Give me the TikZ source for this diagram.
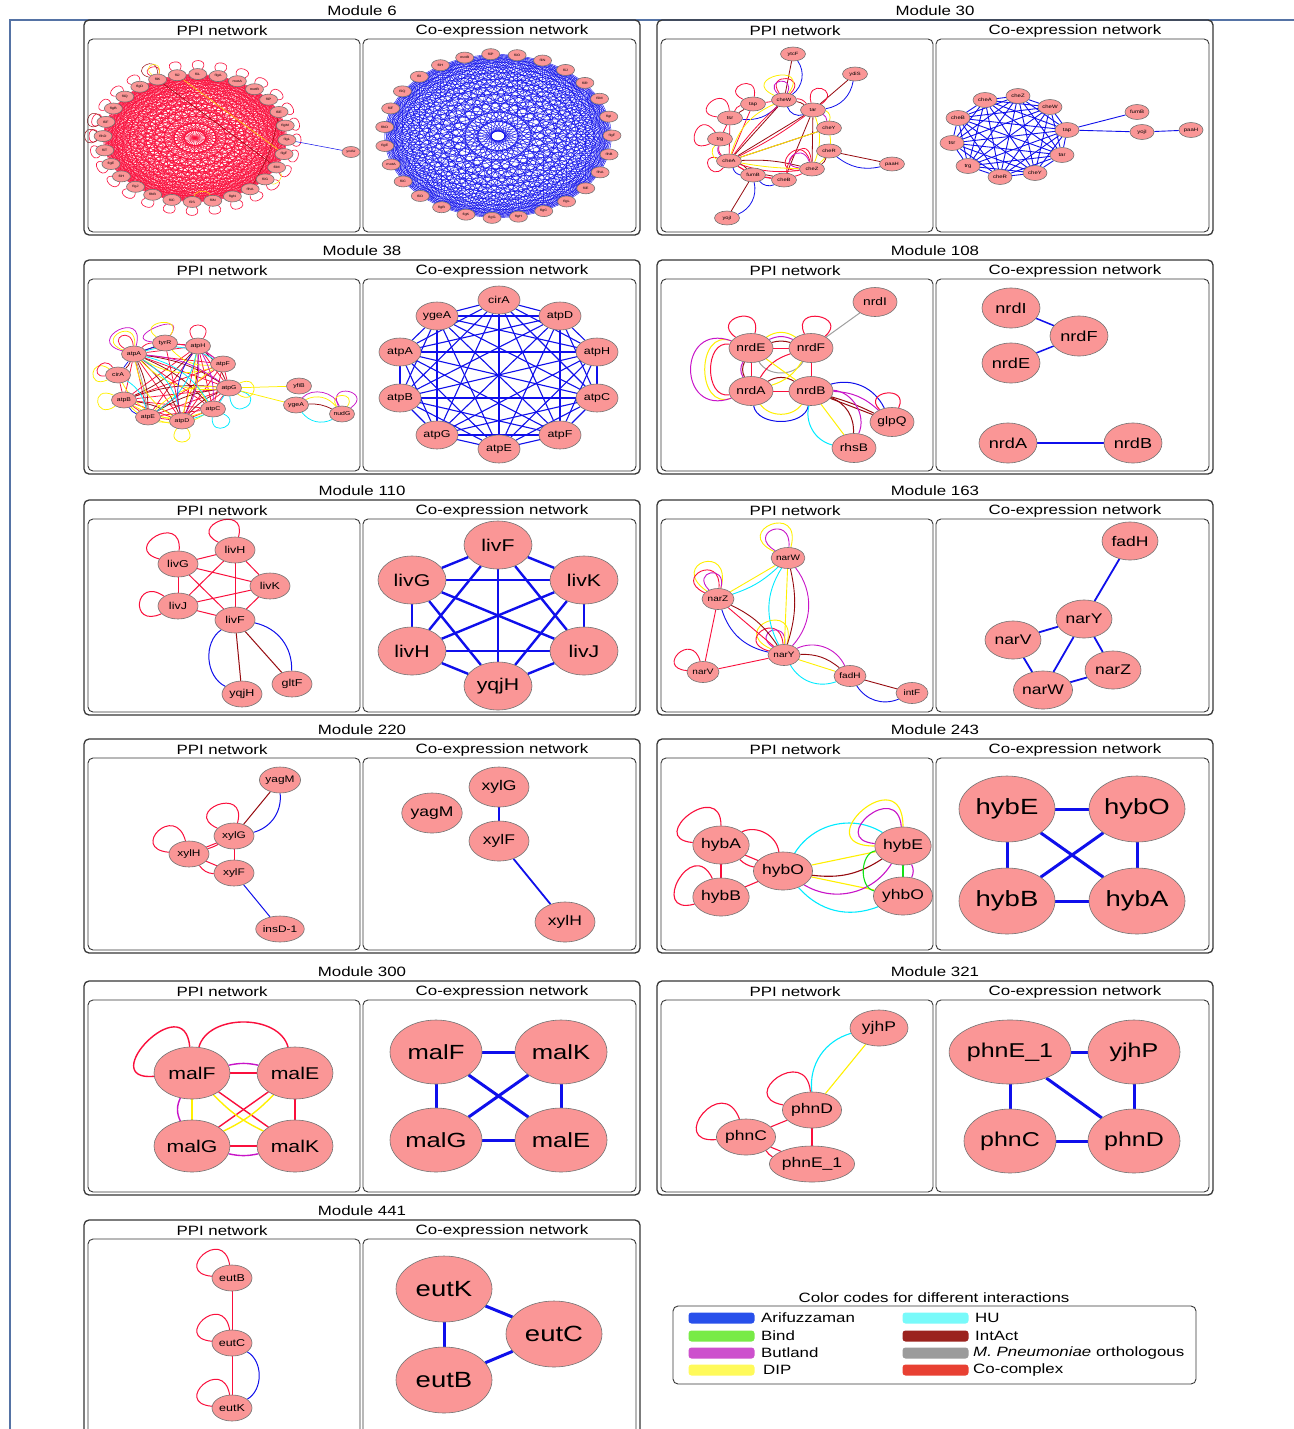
\documentclass[tikz,border=0pt]{standalone}
\usepackage{fontspec}
\setmainfont[FakeStretch=1.25]{Liberation Sans}
\usetikzlibrary{shapes.geometric}
\pgfdeclarelayer{back}
\pgfdeclarelayer{bg}
\pgfsetlayers{back,bg,main}
\definecolor{nodefill}{RGB}{250,150,150}
\definecolor{nodeborder}{RGB}{115,115,115}
\definecolor{cAr}{RGB}{15,15,235}
\definecolor{cBi}{RGB}{20,225,20}
\definecolor{cBu}{RGB}{200,20,200}
\definecolor{cDi}{RGB}{255,240,0}
\definecolor{cHu}{RGB}{0,235,255}
\definecolor{cIn}{RGB}{150,10,15}
\definecolor{cMp}{RGB}{160,160,160}
\definecolor{cCo}{RGB}{250,15,60}
\definecolor{lAr}{RGB}{40,80,235}
\definecolor{lBi}{RGB}{120,235,70}
\definecolor{lBu}{RGB}{205,80,205}
\definecolor{lDi}{RGB}{255,250,90}
\definecolor{lHu}{RGB}{120,250,250}
\definecolor{lIn}{RGB}{155,35,30}
\definecolor{lMp}{RGB}{155,155,155}
\definecolor{lCo}{RGB}{232,64,50}
\definecolor{frameblue}{RGB}{85,115,165}
\definecolor{boxline}{RGB}{55,55,55}
\newcommand\sloop[5]{\draw[#1] (#2) to[out=#3,in=#4,min distance=#5pt] (#2);}
\newcommand\subgraph[3]{\foreach \ga [count=\gi] in {#2}{\foreach \gb [count=\gj] in {#2}{\ifnum\gj>\gi\relax\draw[#3] (#1\ga) -- (#1\gb);\fi}}}
\newcommand\modpanel[4]{%
 \node[modtitle] (mt#3) at (#1+278,#2-9) {Module #3};
 \draw[outerbox] (#1,#2) rectangle (#1+556,#2+#4);
 \node[modtitle] (pt#3) at (#1+138,#2+11) {PPI network};
 \node[modtitle] (ct#3) at (#1+418,#2+11) {Co-expression network};
 \draw[innerbox] (#1+4,#2+19) rectangle (#1+276,#2+#4-3);
 \draw[innerbox] (#1+279,#2+19) rectangle (#1+552,#2+#4-3);
}
\begin{document}
\begin{tikzpicture}[x=1pt,y=-1pt,
 gene/.style n args={3}{ellipse, draw=nodeborder, fill=nodefill, line width=0.6pt, inner sep=0pt, minimum width=#1pt, minimum height=#2pt, font=\fontsize{#3pt}{#3pt}\selectfont},
 g6/.style={gene={18}{11}{3.2}},
 g30p/.style={gene={25}{14}{4.6}}, g30c/.style={gene={24}{15}{4.8}},
 g38p/.style={gene={25}{16}{5.5}}, g38c/.style={gene={42}{28}{10}},
 g108p/.style={gene={44}{29}{11}}, g108c/.style={gene={58}{40}{14.5}},
 g110p/.style={gene={40}{26}{10}}, g110c/.style={gene={68}{48}{17}},
 g163p/.style={gene={32}{21}{8}}, g163c/.style={gene={56}{38}{14}},
 g220p/.style={gene={40}{26}{9.5}}, g220c/.style={gene={60}{40}{14}},
 g243p/.style={gene={55}{38}{14}}, g243c/.style={gene={96}{66}{22}},
 g300p/.style={gene={76}{52}{17}}, g300c/.style={gene={92}{64}{20.5}},
 g321p/.style={gene={58}{36}{14}}, g321c/.style={gene={92}{64}{20}},
 g441p/.style={gene={40}{26}{10}}, g441c/.style={gene={96}{66}{22}},
 eAr/.style={draw=cAr}, eBi/.style={draw=cBi}, eBu/.style={draw=cBu}, eDi/.style={draw=cDi},
 eHu/.style={draw=cHu}, eIn/.style={draw=cIn}, eMp/.style={draw=cMp}, eCo/.style={draw=cCo},
 modtitle/.style={font=\fontsize{13.5pt}{13.5pt}\selectfont, inner sep=0pt},
 outerbox/.style={draw=boxline, line width=1.3pt, rounded corners=5pt},
 innerbox/.style={draw=boxline, line width=0.9pt, rounded corners=5pt},
 swatch/.style={rectangle, rounded corners=3pt, minimum width=66pt, minimum height=11pt, inner sep=0pt},
 leglab/.style={anchor=west, inner sep=0pt, font=\fontsize{13.5pt}{13.5pt}\selectfont}
]
\useasboundingbox (0,0) rectangle (1293,1429);
\begin{pgfonlayer}{back}\fill[white] (0,0) rectangle (1293,1429);\end{pgfonlayer}
\draw[frameblue, line width=1.3pt] (10,1440) -- (10,20) -- (1300,20);

\modpanel{84}{20}{6}{215}
\modpanel{657}{20}{30}{215}
\modpanel{84}{260}{38}{214}
\modpanel{657}{260}{108}{214}
\modpanel{84}{500}{110}{215}
\modpanel{657}{500}{163}{215}
\modpanel{84}{739}{220}{214}
\modpanel{657}{739}{243}{214}
\modpanel{84}{981}{300}{214}
\modpanel{657}{981}{321}{214}
\modpanel{84}{1220}{441}{225}

% ================= Module 6 =================
\foreach \nm [count=\i] in {fliK,fliJ,fliL,flgA,motA,motB,fliP,fliE,flgM,flgL,flgF,fliM,fliG,flhA,flgN,fliN,fliS,fliC,flhB,flgJ,fliH,flgE,fliT,flhD,fliF,flgB,fliQ,flgD}{
 \pgfmathsetmacro\ang{114-(\i-1)*360/28}
 \node[g6] (m6p\i) at ({195+92*cos(\ang)},{138-64*sin(\ang)}) {\nm};}
\node[g6] (m6ycdU) at (351,152) {ycdU};
\foreach \nm [count=\i] in {motB,fliP,fliO,fliN,fliJ,fliR,fliM,flgI,flgF,flhB,flhA,fliE,flgL,flgC,flgH,flgG,flgK,flgB,fliD,fliC,motA,flgE,flhD,fliF,fliQ,fliI,fliH}{
 \pgfmathsetmacro\ang{107-(\i-1)*360/27}
 \node[g6] (m6c\i) at ({498+114*cos(\ang)},{136-82*sin(\ang)}) {\nm};}
\begin{pgfonlayer}{bg}
\foreach \i in {1,...,27}{\pgfmathtruncatemacro\k{\i+1}\foreach \j in {\k,...,28}{\draw[eCo,line width=0.5pt] (m6p\i.center)--(m6p\j.center);}}
\foreach \i in {1,...,28}{\pgfmathsetmacro\aa{114-(\i-1)*360/28+38}\pgfmathsetmacro\ab{114-(\i-1)*360/28-38}\draw[eCo,line width=0.6pt] (m6p\i) to[out=\aa,in=\ab,min distance=14pt] (m6p\i);}
\foreach \i in {1,...,26}{\pgfmathtruncatemacro\k{\i+1}\foreach \j in {\k,...,27}{\draw[eAr,line width=0.4pt] (m6c\i.center)--(m6c\j.center);}}
\begin{scope}[line width=0.5pt]
\draw[eIn] (m6p1) -- (m6p12);
\draw[eIn] (m6p8) to[bend left=10] (m6p14);
\sloop{eIn}{m6p1}{165}{90}{22}
\sloop{eIn}{m6p24}{215}{145}{20}
\sloop{eIn}{m6p25}{205}{135}{20}
\sloop{eDi}{m6p1}{140}{75}{16}
\draw[eDi] (m6p16) to[bend right=70] (m6p17);
\draw[eDi] (m6p12) to[bend left=80] (m6p13);
\draw[eDi] (m6p2) -- (m6p11);
\draw[eAr] (m6p10) -- (m6ycdU);
\end{scope}
\end{pgfonlayer}

% ================= Module 30 =================
\node[g30p] (p30ytcF) at (793,54) {ytcF};
\node[g30p] (p30ydiS) at (855,74) {ydiS};
\node[g30p] (p30cheW) at (784,100) {cheW};
\node[g30p] (p30tap) at (753,104) {tap};
\node[g30p] (p30tar) at (813,110) {tar};
\node[g30p] (p30tsr) at (730,118) {tsr};
\node[g30p] (p30cheY) at (829,128) {cheY};
\node[g30p] (p30trg) at (720,139) {trg};
\node[g30p] (p30cheR) at (829,151) {cheR};
\node[g30p] (p30cheA) at (729,161) {cheA};
\node[g30p] (p30cheZ) at (812,169) {cheZ};
\node[g30p] (p30fumB) at (753,175) {fumB};
\node[g30p] (p30cheB) at (784,180) {cheB};
\node[g30p] (p30paaH) at (892,164) {paaH};
\node[g30p] (p30yojI) at (727,218) {yojI};
\node[g30c] (c30cheA) at (985,100) {cheA};
\node[g30c] (c30cheZ) at (1018,96) {cheZ};
\node[g30c] (c30cheW) at (1050,107) {cheW};
\node[g30c] (c30cheB) at (958,118) {cheB};
\node[g30c] (c30tap) at (1067,130) {tap};
\node[g30c] (c30tsr) at (952,143) {tsr};
\node[g30c] (c30tar) at (1062,155) {tar};
\node[g30c] (c30trg) at (968,166) {trg};
\node[g30c] (c30cheR) at (1000,177) {cheR};
\node[g30c] (c30cheY) at (1035,173) {cheY};
\node[g30c] (c30fumB) at (1137,112) {fumB};
\node[g30c] (c30yojI) at (1142,132) {yojI};
\node[g30c] (c30paaH) at (1191,130) {paaH};
\begin{pgfonlayer}{bg}
\begin{scope}[line width=0.8pt]
\draw[eIn] (p30ytcF) -- (p30cheW);
\draw[eIn] (p30ydiS) -- (p30tar);
\draw[eIn] (p30cheR) -- (p30paaH);
\draw[eIn] (p30fumB) -- (p30yojI);
\draw[eIn] (p30cheA) -- (p30cheW);
\draw[eIn] (p30cheA) -- (p30tar);
\draw[eIn] (p30cheA) -- (p30cheY);
\draw[eIn] (p30cheA) to[bend left=8] (p30cheZ);
\draw[eIn] (p30tar) -- (p30cheB);
\draw[eIn] (p30tar) -- (p30cheZ);
\draw[eIn] (p30tap) -- (p30tsr);
\draw[eIn] (p30cheA) to[bend left=15] (p30fumB);
\draw[eIn] (p30fumB) to[bend left=10] (p30cheB);
\draw[eIn] (p30cheW) to[bend left=12] (p30tar);
\draw[eIn] (p30cheR) to[bend left=20] (p30cheZ);
\draw[eAr] (p30ytcF) to[bend left=45] (p30cheW);
\draw[eAr] (p30ydiS) to[bend left=35] (p30tar);
\draw[eAr] (p30cheR) to[bend right=25] (p30paaH);
\draw[eAr] (p30fumB) to[bend left=40] (p30yojI);
\draw[eAr] (p30tsr) to[bend right=25] (p30cheW);
\draw[eAr] (p30cheA) to[bend right=30] (p30fumB);
\draw[eAr] (p30fumB) to[bend right=35] (p30cheB);
\draw[eAr] (p30cheW) to[bend right=45] (p30tar);
\sloop{eCo}{p30tap}{155}{80}{26}
\sloop{eCo}{p30tsr}{175}{95}{30}
\sloop{eCo}{p30trg}{205}{125}{32}
\sloop{eCo}{p30cheW}{125}{45}{26}
\sloop{eCo}{p30tar}{105}{35}{26}
\sloop{eCo}{p30cheA}{230}{165}{20}
\sloop{eCo}{p30cheZ}{185}{105}{34}
\sloop{eCo}{p30cheZ}{205}{95}{42}
\draw[eCo] (p30cheA) -- (p30tap);
\draw[eCo] (p30cheA) to[bend left=5] (p30cheW);
\draw[eCo] (p30cheA) to[bend right=5] (p30tar);
\draw[eCo] (p30cheA) -- (p30tsr);
\draw[eCo] (p30cheA) to[bend left=30] (p30trg);
\draw[eCo] (p30tap) -- (p30cheW);
\draw[eCo] (p30tar) to[bend right=25] (p30cheW);
\draw[eCo] (p30cheA) -- (p30fumB);
\draw[eCo] (p30cheA) to[bend right=12] (p30cheZ);
\draw[eCo] (p30tsr) -- (p30trg);
\draw[eCo] (p30cheA) to[bend right=12] (p30cheB);
\draw[eCo] (p30fumB) -- (p30cheB);
\draw[eCo] (p30tsr) to[bend left=25] (p30tap);
\draw[eDi] (p30cheA) to[bend left=25] (p30cheW);
\draw[eDi] (p30cheA) -- (p30cheY);
\draw[eDi] (p30cheA) to[bend right=4] (p30cheZ);
\draw[eDi] (p30trg) to[bend right=60] (p30cheA);
\sloop{eDi}{p30cheW}{155}{55}{40}
\draw[eDi] (p30tar) to[bend left=45] (p30cheY);
\draw[eDi] (p30tar) to[bend left=20] (p30cheZ);
\draw[eDi] (p30cheY) to[bend left=30] (p30cheZ);
\draw[eBu] (p30trg) to[bend right=35] (p30cheA);
\sloop{eBu}{p30cheW}{135}{65}{20}
\draw[eBu] (p30tar) to[bend left=25] (p30cheY);
\sloop{eBu}{p30cheZ}{175}{110}{24}
\end{scope}
\subgraph{c30}{cheA,cheZ,cheW,cheB,tap,tsr,tar,trg,cheR,cheY}{eAr,line width=0.9pt}
\draw[eAr,line width=0.9pt] (c30tap) -- (c30fumB);
\draw[eAr,line width=0.9pt] (c30tap) -- (c30yojI);
\draw[eAr,line width=0.9pt] (c30yojI) -- (c30paaH);
\end{pgfonlayer}

% ================= Module 38 =================
\node[g38p] (p38tyrR) at (165,343) {tyrR};
\node[g38p] (p38atpH) at (198,346) {atpH};
\node[g38p] (p38atpA) at (134,354) {atpA};
\node[g38p] (p38atpF) at (223,364) {atpF};
\node[g38p] (p38cirA) at (118,375) {cirA};
\node[g38p] (p38atpG) at (229,388) {atpG};
\node[g38p] (p38atpB) at (124,400) {atpB};
\node[g38p] (p38atpC) at (213,409) {atpC};
\node[g38p] (p38atpE) at (148,417) {atpE};
\node[g38p] (p38atpD) at (182,421) {atpD};
\node[g38p] (p38yfiB) at (299,386) {yfiB};
\node[g38p] (p38ygeA) at (296,405) {ygeA};
\node[g38p] (p38nudG) at (342,414) {nudG};
\node[g38c] (c38ygeA) at (437,316) {ygeA};
\node[g38c] (c38cirA) at (499,300) {cirA};
\node[g38c] (c38atpD) at (560,316) {atpD};
\node[g38c] (c38atpA) at (400,352) {atpA};
\node[g38c] (c38atpH) at (597,352) {atpH};
\node[g38c] (c38atpB) at (400,398) {atpB};
\node[g38c] (c38atpC) at (597,398) {atpC};
\node[g38c] (c38atpG) at (437,435) {atpG};
\node[g38c] (c38atpF) at (560,435) {atpF};
\node[g38c] (c38atpE) at (499,449) {atpE};
\begin{pgfonlayer}{bg}
\begin{scope}[line width=0.75pt]
\subgraph{p38}{atpA,atpH,atpF,atpG,atpB,atpC,atpE,atpD}{eCo}
\foreach \ga/\gb in {atpA/atpH,atpA/atpG,atpA/atpD,atpA/atpE,atpH/atpG,atpH/atpD,atpB/atpG,atpB/atpD,atpE/atpG,atpD/atpG,atpA/atpC,atpH/atpB,atpA/cirA}{\draw[eIn] (p38\ga) to[bend left=12] (p38\gb);}
\foreach \ga/\gb in {atpA/atpF,atpA/atpD,atpB/atpD,atpB/atpC,atpH/atpC,atpF/atpD,atpG/atpE,cirA/atpD,atpA/atpG,atpE/atpC,tyrR/atpF}{\draw[eDi] (p38\ga) to[bend right=25] (p38\gb);}
\foreach \ga/\gb in {atpA/atpD,atpA/atpC,cirA/atpE,atpH/atpE,atpG/atpD,atpA/atpF}{\draw[eHu] (p38\ga) to[bend left=22] (p38\gb);}
\foreach \ga/\gb in {atpA/atpG,atpH/atpD,atpH/atpC,tyrR/atpF}{\draw[eBu] (p38\ga) to[bend left=15] (p38\gb);}
\draw[eAr] (p38atpA) -- (p38tyrR);
\draw[eAr] (p38atpH) to[bend right=25] (p38atpD);
\draw[eAr] (p38atpA) -- (p38cirA);
\draw[eAr] (p38atpB) to[bend right=20] (p38atpE);
\draw[eMp] (p38atpA) to[bend left=5] (p38atpE);
\draw[eCo] (p38cirA) -- (p38atpB);
\draw[eCo] (p38tyrR) -- (p38atpH);
\draw[eCo] (p38atpA) to[bend left=20] (p38tyrR);
\draw[eCo] (p38tyrR) -- (p38atpD);
\sloop{eBu}{p38atpA}{165}{75}{40}
\sloop{eDi}{p38atpA}{160}{85}{30}
\sloop{eCo}{p38atpA}{150}{95}{20}
\sloop{eBu}{p38tyrR}{175}{55}{34}
\sloop{eDi}{p38tyrR}{145}{55}{26}
\sloop{eCo}{p38atpH}{125}{55}{22}
\sloop{eDi}{p38cirA}{205}{145}{24}
\sloop{eCo}{p38cirA}{185}{125}{18}
\sloop{eDi}{p38atpB}{215}{155}{26}
\sloop{eHu}{p38atpG}{345}{275}{28}
\sloop{eDi}{p38atpG}{25}{325}{24}
\sloop{eDi}{p38atpD}{305}{235}{22}
\sloop{eHu}{p38atpC}{335}{265}{22}
\draw[eDi] (p38atpG) -- (p38yfiB);
\draw[eDi] (p38atpG) -- (p38ygeA);
\draw[eIn] (p38ygeA) to[bend left=15] (p38nudG);
\draw[eHu] (p38ygeA) to[bend right=40] (p38nudG);
\draw[eBu] (p38ygeA) to[bend left=60] (p38nudG);
\draw[eDi] (p38ygeA) to[bend left=40] (p38nudG);
\sloop{eBu}{p38nudG}{115}{35}{28}
\sloop{eDi}{p38nudG}{125}{55}{18}
\end{scope}
\subgraph{c38}{ygeA,cirA,atpD,atpA,atpH,atpB,atpC,atpG,atpF,atpE}{eAr,line width=1.1pt}
\end{pgfonlayer}

% ================= Module 108 =================
\node[g108p] (p108nrdI) at (875,302) {nrdI};
\node[g108p] (p108nrdE) at (751,348) {nrdE};
\node[g108p] (p108nrdF) at (811,348) {nrdF};
\node[g108p] (p108nrdA) at (751,391) {nrdA};
\node[g108p] (p108nrdB) at (811,391) {nrdB};
\node[g108p] (p108glpQ) at (892,422) {glpQ};
\node[g108p] (p108rhsB) at (854,448) {rhsB};
\node[g108c] (c108nrdI) at (1011,308) {nrdI};
\node[g108c] (c108nrdF) at (1079,336) {nrdF};
\node[g108c] (c108nrdE) at (1011,363) {nrdE};
\node[g108c] (c108nrdA) at (1008,443) {nrdA};
\node[g108c] (c108nrdB) at (1133,443) {nrdB};
\begin{pgfonlayer}{bg}
\begin{scope}[line width=1pt]
\draw[eMp] (p108nrdI) -- (p108nrdF);
\draw[eMp] (p108nrdE) to[bend right=60] (p108nrdF);
\sloop{eCo}{p108nrdE}{145}{75}{32}
\sloop{eCo}{p108nrdF}{115}{40}{32}
\draw[eCo] (p108nrdA) to[out=190,in=170,looseness=1.3] (p108nrdE);
\draw[eCo] (p108nrdE) -- (p108nrdF);
\draw[eCo] (p108nrdA) -- (p108nrdB);
\draw[eCo] (p108nrdE) -- (p108nrdA);
\draw[eCo] (p108nrdF) -- (p108nrdB);
\draw[eCo] (p108nrdF) to[bend right=20] (p108nrdA);
\draw[eIn] (p108nrdE) to[bend left=15] (p108nrdF);
\draw[eIn] (p108nrdE) to[bend right=25] (p108nrdA);
\draw[eIn] (p108nrdA) to[bend left=30] (p108nrdB);
\draw[eDi] (p108nrdE) to[bend left=35] (p108nrdF);
\draw[eDi] (p108nrdA) to[bend right=55] (p108nrdB);
\draw[eDi] (p108nrdE) -- (p108nrdB);
\draw[eDi] (p108nrdF) to[bend left=20] (p108nrdA);
\draw[eDi] (p108nrdA) to[out=200,in=160,looseness=1.7] (p108nrdE);
\draw[eBu] (p108nrdA) to[out=200,in=160,looseness=2.6] (p108nrdE);
\draw[eBu] (p108nrdE) to[bend left=25] (p108nrdF);
\draw[eBu] (p108nrdE) to[bend right=30] (p108nrdA);
\draw[eAr] (p108nrdA) to[bend right=80] (p108nrdB);
\draw[eAr] (p108nrdB) to[bend left=40] (p108glpQ);
\draw[eBu] (p108nrdB) to[bend left=20] (p108glpQ);
\draw[eIn] (p108nrdB) -- (p108glpQ);
\draw[eIn] (p108nrdB) to[bend left=5] (p108glpQ);
\draw[eHu] (p108nrdB) to[bend right=45] (p108rhsB);
\draw[eDi] (p108nrdB) -- (p108rhsB);
\draw[eIn] (p108nrdB) to[bend left=35] (p108rhsB);
\draw[eBu] (p108nrdB) to[bend left=55] (p108rhsB);
\sloop{eCo}{p108glpQ}{135}{65}{26}
\end{scope}
\draw[eAr,line width=1.5pt] (c108nrdI) -- (c108nrdF);
\draw[eAr,line width=1.5pt] (c108nrdE) -- (c108nrdF);
\draw[eAr,line width=1.5pt] (c108nrdA) -- (c108nrdB);
\end{pgfonlayer}

% ================= Module 110 =================
\node[g110p] (p110livH) at (235,550) {livH};
\node[g110p] (p110livG) at (178,564) {livG};
\node[g110p] (p110livK) at (270,586) {livK};
\node[g110p] (p110livJ) at (178,606) {livJ};
\node[g110p] (p110livF) at (235,620) {livF};
\node[g110p] (p110gltF) at (292,684) {gltF};
\node[g110p] (p110yqjH) at (242,694) {yqjH};
\node[g110c] (c110livF) at (498,545) {livF};
\node[g110c] (c110livG) at (412,580) {livG};
\node[g110c] (c110livK) at (584,580) {livK};
\node[g110c] (c110livH) at (412,651) {livH};
\node[g110c] (c110livJ) at (584,651) {livJ};
\node[g110c] (c110yqjH) at (498,686) {yqjH};
\begin{pgfonlayer}{bg}
\begin{scope}[line width=1pt]
\subgraph{p110}{livH,livG,livK,livJ,livF}{eCo}
\sloop{eCo}{p110livG}{165}{85}{40}
\sloop{eCo}{p110livH}{155}{75}{36}
\sloop{eCo}{p110livJ}{205}{145}{36}
\draw[eIn] (p110livF) -- (p110yqjH);
\draw[eIn] (p110livF) -- (p110gltF);
\draw[eAr] (p110livF) to[bend right=60] (p110yqjH);
\draw[eAr] (p110livF) to[bend left=40] (p110gltF);
\end{scope}
\subgraph{c110}{livF,livG,livK,livH,livJ,yqjH}{eAr,line width=2.4pt}
\end{pgfonlayer}

% ================= Module 163 =================
\node[g163p] (p163narW) at (788,558) {narW};
\node[g163p] (p163narZ) at (718,599) {narZ};
\node[g163p] (p163narY) at (784,655) {narY};
\node[g163p] (p163narV) at (703,672) {narV};
\node[g163p] (p163fadH) at (850,676) {fadH};
\node[g163p] (p163intF) at (912,693) {intF};
\node[g163c] (c163fadH) at (1130,541) {fadH};
\node[g163c] (c163narY) at (1084,619) {narY};
\node[g163c] (c163narV) at (1013,640) {narV};
\node[g163c] (c163narZ) at (1113,670) {narZ};
\node[g163c] (c163narW) at (1043,690) {narW};
\begin{pgfonlayer}{bg}
\begin{scope}[line width=0.9pt]
\sloop{eDi}{p163narW}{155}{75}{48}
\sloop{eBu}{p163narW}{150}{85}{34}
\sloop{eDi}{p163narZ}{145}{75}{48}
\sloop{eCo}{p163narZ}{155}{85}{36}
\sloop{eBu}{p163narZ}{135}{75}{26}
\sloop{eCo}{p163narV}{175}{105}{32}
\sloop{eDi}{p163narY}{155}{75}{48}
\sloop{eCo}{p163narY}{165}{95}{36}
\sloop{eBu}{p163narY}{145}{85}{26}
\draw[eDi] (p163narW) -- (p163narZ);
\draw[eHu] (p163narW) to[bend left=12] (p163narZ);
\draw[eHu] (p163narW) to[bend right=30] (p163narY);
\draw[eDi] (p163narW) -- (p163narY);
\draw[eIn] (p163narW) to[bend left=15] (p163narY);
\draw[eBu] (p163narW) to[bend left=40] (p163narY);
\draw[eIn] (p163narZ) to[bend left=15] (p163narY);
\draw[eCo] (p163narZ) -- (p163narY);
\draw[eAr] (p163narZ) to[bend right=30] (p163narY);
\draw[eCo] (p163narZ) -- (p163narV);
\draw[eCo] (p163narV) -- (p163narY);
\draw[eIn] (p163narY) to[bend left=20] (p163fadH);
\draw[eBu] (p163narY) to[bend left=45] (p163fadH);
\draw[eDi] (p163narY) -- (p163fadH);
\draw[eHu] (p163narY) to[bend right=40] (p163fadH);
\draw[eIn] (p163fadH) -- (p163intF);
\draw[eAr] (p163fadH) to[bend right=40] (p163intF);
\end{scope}
\begin{scope}[line width=1.8pt]
\draw[eAr] (c163fadH) -- (c163narY);
\draw[eAr] (c163narY) -- (c163narV);
\draw[eAr] (c163narY) -- (c163narW);
\draw[eAr] (c163narY) -- (c163narZ);
\draw[eAr] (c163narV) -- (c163narW);
\draw[eAr] (c163narW) -- (c163narZ);
\end{scope}
\end{pgfonlayer}

% ================= Module 220 =================
\node[g220p] (p220yagM) at (280,780) {yagM};
\node[g220p] (p220xylG) at (234,836) {xylG};
\node[g220p] (p220xylH) at (189,854) {xylH};
\node[g220p] (p220xylF) at (234,873) {xylF};
\node[g220p] (p220insD) at (280,929) {insD-1};
\node[g220c] (c220xylG) at (499,787) {xylG};
\node[g220c] (c220yagM) at (432,813) {yagM};
\node[g220c] (c220xylF) at (499,841) {xylF};
\node[g220c] (c220xylH) at (565,922) {xylH};
\begin{pgfonlayer}{bg}
\begin{scope}[line width=1pt]
\draw[eIn] (p220yagM) -- (p220xylG);
\draw[eAr] (p220yagM) to[bend left=40] (p220xylG);
\sloop{eCo}{p220xylG}{155}{75}{40}
\sloop{eCo}{p220xylH}{175}{105}{40}
\draw[eCo] (p220xylG) -- (p220xylH);
\draw[eCo] (p220xylG) to[bend left=6] (p220xylH);
\draw[eCo] (p220xylG) -- (p220xylF);
\draw[eCo] (p220xylH) -- (p220xylF);
\draw[eCo] (p220xylH) to[bend right=25] (p220xylF);
\draw[eAr] (p220xylF) -- (p220insD);
\end{scope}
\draw[eAr,line width=1.8pt] (c220xylG) -- (c220xylF);
\draw[eAr,line width=1.8pt] (c220xylF) -- (c220xylH);
\end{pgfonlayer}

% ================= Module 243 =================
\node[g243p] (p243hybA) at (721,845) {hybA};
\node[g243p] (p243hybO) at (783,871) {hybO};
\node[g243p] (p243hybB) at (721,897) {hybB};
\node[g243p] (p243hybE) at (903,846) {hybE};
\node[g243p] (p243yhbO) at (903,896) {yhbO};
\node[g243c] (c243hybE) at (1007,809) {hybE};
\node[g243c] (c243hybO) at (1137,809) {hybO};
\node[g243c] (c243hybB) at (1007,901) {hybB};
\node[g243c] (c243hybA) at (1137,901) {hybA};
\begin{pgfonlayer}{bg}
\begin{scope}[line width=1.1pt]
\sloop{eCo}{p243hybA}{175}{90}{48}
\sloop{eCo}{p243hybB}{195}{115}{48}
\draw[eCo] (p243hybA) to[bend left=55] (p243hybO);
\draw[eCo] (p243hybA) -- (p243hybO);
\draw[eCo] (p243hybA) to[bend right=15] (p243hybO);
\draw[eCo] (p243hybA) -- (p243hybB);
\draw[eCo] (p243hybB) -- (p243hybO);
\draw[eHu] (p243hybO) to[bend left=45] (p243hybE);
\draw[eHu] (p243hybO) to[bend right=35] (p243yhbO);
\draw[eDi] (p243hybO) -- (p243hybE);
\draw[eDi] (p243hybO) -- (p243yhbO);
\draw[eIn] (p243hybO) to[bend right=20] (p243hybE);
\draw[eBu] (p243hybO) to[bend right=45] (p243hybE);
\sloop{eDi}{p243hybE}{180}{90}{70}
\sloop{eBu}{p243hybE}{175}{95}{48}
\draw[eBi] (p243hybE) -- (p243yhbO);
\draw[eBi] (p243hybE) to[bend right=80] (p243yhbO);
\draw[eBu] (p243hybE) to[bend left=25] (p243yhbO);
\end{scope}
\subgraph{c243}{hybE,hybO,hybB,hybA}{eAr,line width=3pt}
\end{pgfonlayer}

% ================= Module 300 =================
\node[g300p] (p300malF) at (192,1073) {malF};
\node[g300p] (p300malE) at (295,1073) {malE};
\node[g300p] (p300malG) at (192,1146) {malG};
\node[g300p] (p300malK) at (295,1146) {malK};
\node[g300c] (c300malF) at (436,1052) {malF};
\node[g300c] (c300malK) at (561,1052) {malK};
\node[g300c] (c300malG) at (436,1140) {malG};
\node[g300c] (c300malE) at (561,1140) {malE};
\begin{pgfonlayer}{bg}
\begin{scope}[line width=1.4pt]
\sloop{eCo}{p300malF}{185}{95}{60}
\draw[eCo] (p300malF) to[bend left=75] (p300malE);
\draw[eCo] (p300malF) -- (p300malE);
\draw[eCo] (p300malF) -- (p300malK);
\draw[eCo] (p300malE) -- (p300malG);
\draw[eCo] (p300malG) -- (p300malK);
\draw[eCo] (p300malE) -- (p300malK);
\draw[eBu] (p300malF) to[bend right=25] (p300malG);
\draw[eBu] (p300malF) to[bend left=12] (p300malE);
\draw[eBu] (p300malG) to[bend right=12] (p300malK);
\draw[eDi] (p300malE) to[bend left=10] (p300malG);
\draw[eDi] (p300malF) to[bend right=10] (p300malK);
\draw[eDi] (p300malF) -- (p300malG);
\end{scope}
\subgraph{c300}{malF,malK,malG,malE}{eAr,line width=3pt}
\end{pgfonlayer}

% ================= Module 321 =================
\node[g321p] (p321yjhP) at (879,1028) {yjhP};
\node[g321p] (p321phnD) at (812,1110) {phnD};
\node[g321p] (p321phnC) at (746,1137) {phnC};
\node[g321p] (p321phnE1) at (812,1164) {phnE\_1};
\node[g321c] (c321phnE1) at (1010,1052) {phnE\_1};
\node[g321c] (c321yjhP) at (1134,1052) {yjhP};
\node[g321c] (c321phnC) at (1010,1141) {phnC};
\node[g321c] (c321phnD) at (1134,1141) {phnD};
\begin{pgfonlayer}{bg}
\begin{scope}[line width=1.1pt]
\draw[eHu] (p321yjhP) to[bend right=40] (p321phnD);
\draw[eDi] (p321yjhP) -- (p321phnD);
\sloop{eCo}{p321phnD}{170}{95}{48}
\sloop{eCo}{p321phnC}{185}{110}{50}
\draw[eCo] (p321phnD) -- (p321phnC);
\draw[eCo] (p321phnC) -- (p321phnE1);
\draw[eCo] (p321phnC) to[bend right=12] (p321phnE1);
\draw[eCo] (p321phnD) -- (p321phnE1);
\end{scope}
\begin{scope}[line width=3pt]
\draw[eAr] (c321phnE1) -- (c321yjhP);
\draw[eAr] (c321phnE1) -- (c321phnC);
\draw[eAr] (c321phnE1) -- (c321phnD);
\draw[eAr] (c321yjhP) -- (c321phnD);
\draw[eAr] (c321phnC) -- (c321phnD);
\end{scope}
\end{pgfonlayer}

% ================= Module 441 =================
\node[g441p] (p441eutB) at (232,1278) {eutB};
\node[g441p] (p441eutC) at (232,1343) {eutC};
\node[g441p] (p441eutK) at (232,1408) {eutK};
\node[g441c] (c441eutK) at (444,1289) {eutK};
\node[g441c] (c441eutC) at (554,1334) {eutC};
\node[g441c] (c441eutB) at (444,1380) {eutB};
\begin{pgfonlayer}{bg}
\begin{scope}[line width=1pt]
\sloop{eCo}{p441eutB}{175}{100}{40}
\sloop{eCo}{p441eutC}{175}{100}{40}
\sloop{eCo}{p441eutK}{175}{100}{40}
\draw[eCo] (p441eutB) -- (p441eutC);
\draw[eCo] (p441eutC) -- (p441eutK);
\draw[eAr] (p441eutC) to[bend left=60] (p441eutK);
\end{scope}
\subgraph{c441}{eutK,eutC,eutB}{eAr,line width=3pt}
\end{pgfonlayer}

% ================= Legend =================
\node[modtitle] (legt) at (934,1298) {Color codes for different interactions};
\draw[innerbox] (673,1306) rectangle (1196,1384);
\node[swatch, fill=lAr] (sw1) at (721.5,1318) {};
\node[swatch, fill=lBi] (sw2) at (721.5,1336) {};
\node[swatch, fill=lBu] (sw3) at (721.5,1353) {};
\node[swatch, fill=lDi] (sw4) at (721.5,1370) {};
\node[swatch, fill=lHu] (sw5) at (935.5,1318) {};
\node[swatch, fill=lIn] (sw6) at (935.5,1336) {};
\node[swatch, fill=lMp] (sw7) at (935.5,1353) {};
\node[swatch, fill=lCo] (sw8) at (935.5,1370) {};
\node[leglab] (lb1) at (761,1318) {Arifuzzaman};
\node[leglab] (lb2) at (761,1336) {Bind};
\node[leglab] (lb3) at (761,1353) {Butland};
\node[leglab] (lb4) at (763,1370) {DIP};
\node[leglab] (lb5) at (975,1318) {HU};
\node[leglab] (lb6) at (975,1336) {IntAct};
\node[leglab] (lb7) at (973,1353) {\textit{M. Pneumoniae} orthologous};
\node[leglab] (lb8) at (973,1370) {Co-complex};
\end{tikzpicture}
\end{document}
